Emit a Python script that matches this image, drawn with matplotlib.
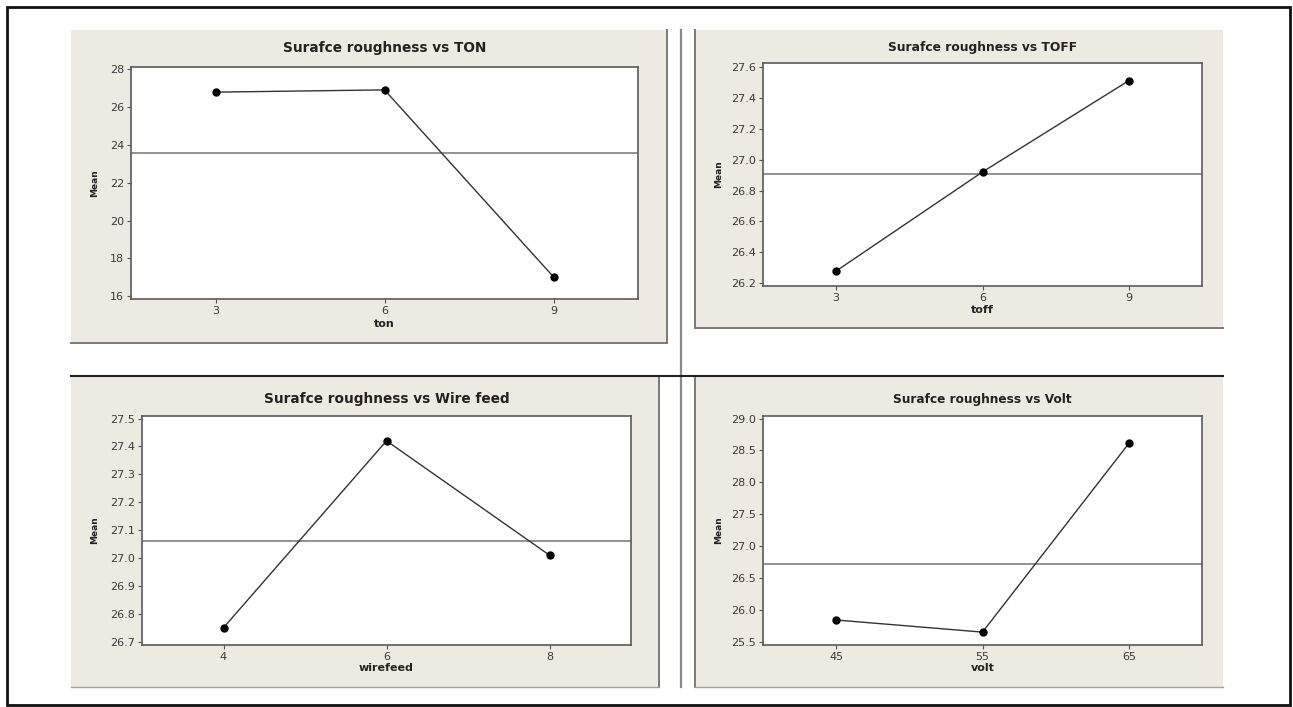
"""Main effects plots for surface roughness (four factor panels)."""
import matplotlib

matplotlib.use("Agg")
from matplotlib import pyplot as plt
from matplotlib.patches import Rectangle

# ---- data ----
titles = [
    "Surafce roughness vs TON",
    "Surafce roughness vs TOFF",
    "Surafce roughness vs Wire feed",
    "Surafce roughness vs Volt",
]
factor_names = ["ton", "toff", "wirefeed", "volt"]

ton_levels = [3, 6, 9]
ton_means = [26.79, 26.91, 17.02]

toff_levels = [3, 6, 9]
toff_means = [26.28, 26.92, 27.51]

wirefeed_levels = [4, 6, 8]
wirefeed_means = [26.75, 27.42, 27.01]

volt_levels = [45, 55, 65]
volt_means = [25.84, 25.65, 28.61]

grand_means = [23.55, 26.906, 27.062, 26.72]

ton_yticks = [16, 18, 20, 22, 24, 26, 28]
toff_yticks = [26.2, 26.4, 26.6, 26.8, 27.0, 27.2, 27.4, 27.6]
wirefeed_yticks = [26.7, 26.8, 26.9, 27.0, 27.1, 27.2, 27.3, 27.4, 27.5]
volt_yticks = [25.5, 26.0, 26.5, 27.0, 27.5, 28.0, 28.5, 29.0]

# ---- layout (pixels in a 1293x707 canvas) ----
W, H = 1293, 707
BEIGE = "#edeae2"

panels = [
    # beige box, axes box, title y, xlabel y, ylabel x, xlim, ylim, title size
    dict(box=(71, 30, 667, 343), ax=(131, 67, 638, 299), ty=48, xly=324, ylx=95,
         xlim=(1.5, 10.5), ylim=(15.85, 28.12), tsize=9.8),
    dict(box=(695, 30, 1223, 328), ax=(763, 63, 1202, 286), ty=47, xly=310, ylx=719,
         xlim=(1.5, 10.5), ylim=(26.183, 27.624), tsize=8.8),
    dict(box=(71, 376, 659, 687), ax=(142, 416, 631, 645), ty=399, xly=668, ylx=95,
         xlim=(3, 9), ylim=(26.688, 27.509), tsize=9.8),
    dict(box=(695, 376, 1223, 687), ax=(763, 416, 1202, 645), ty=399, xly=668, ylx=719,
         xlim=(40, 70), ylim=(25.448, 29.04), tsize=8.7),
]

series = [
    (ton_levels, ton_means, ton_yticks, "{:.0f}"),
    (toff_levels, toff_means, toff_yticks, "{:.1f}"),
    (wirefeed_levels, wirefeed_means, wirefeed_yticks, "{:.1f}"),
    (volt_levels, volt_means, volt_yticks, "{:.1f}"),
]


def fig_rect(x0, y0, x1, y1):
    return [x0 / W, 1 - y1 / H, (x1 - x0) / W, (y1 - y0) / H]


fig = plt.figure(figsize=(W / 100, H / 100), dpi=100)
fig.patch.set_facecolor("white")

# background canvas in pixel coordinates for frames and dividers
bg = fig.add_axes([0, 0, 1, 1])
bg.set_xlim(0, W)
bg.set_ylim(H, 0)
bg.axis("off")

for p in panels:
    x0, y0, x1, y1 = p["box"]
    bg.add_patch(Rectangle((x0, y0), x1 - x0, y1 - y0, facecolor=BEIGE, edgecolor="none"))

# panel edge shadows
edge = dict(color="#7a7a7a", linewidth=1.4)
bg.plot([667, 667], [30, 343], **edge)
bg.plot([71, 667], [343, 343], **edge)
bg.plot([695, 695], [30, 328], **edge)
bg.plot([695, 1223], [328, 328], **edge)
bg.plot([659, 659], [376, 687], **edge)
bg.plot([71, 659], [687, 687], color="#a0a0a0", linewidth=1.0)
bg.plot([695, 695], [376, 687], **edge)
bg.plot([695, 1223], [687, 687], color="#a0a0a0", linewidth=1.0)

# dividers
bg.plot([681, 681], [30, 687], color="#8a8a8a", linewidth=1.6)
bg.plot([71, 1223], [376, 376], color="#222222", linewidth=1.5)

# outer border
bg.add_patch(Rectangle((7, 7), 1283, 698, facecolor="none", edgecolor="#111111", linewidth=2.0))

for p, (levels, means, yticks, fmt), title, name, gm in zip(
    panels, series, titles, factor_names, grand_means
):
    ax = fig.add_axes(fig_rect(*p["ax"]))
    ax.set_facecolor("white")
    ax.plot(levels, means, color="#333333", linewidth=1.0, marker="o",
            markersize=5, markerfacecolor="black", markeredgecolor="black", zorder=3)
    ax.axhline(gm, color="#7f7f7f", linewidth=1.2, zorder=2)
    ax.set_xlim(*p["xlim"])
    ax.set_ylim(*p["ylim"])
    ax.set_xticks(levels)
    ax.set_xticklabels([str(v) for v in levels])
    ax.set_yticks(yticks)
    ax.set_yticklabels([fmt.format(v) for v in yticks])
    ax.tick_params(axis="both", direction="out", length=3, width=0.8, color="#555555",
                   labelsize=8, labelcolor="#3a3a3a", pad=2, top=False, right=False)
    for spine in ax.spines.values():
        spine.set_color("#5a5a5a")
        spine.set_linewidth(1.2)

    cx = (p["ax"][0] + p["ax"][2]) / 2
    bg.text(cx, p["ty"], title, ha="center", va="center", fontsize=p["tsize"],
            fontweight="bold", color="#222222")
    bg.text(cx, p["xly"], name, ha="center", va="center", fontsize=8,
            fontweight="bold", color="#222222")
    ylc = (p["ax"][1] + p["ax"][3]) / 2
    bg.text(p["ylx"], ylc, "Mean", ha="center", va="center", rotation=90,
            fontsize=6.5, fontweight="bold", color="#222222")

fig.savefig("out.png", dpi=100)
plt.close(fig)
